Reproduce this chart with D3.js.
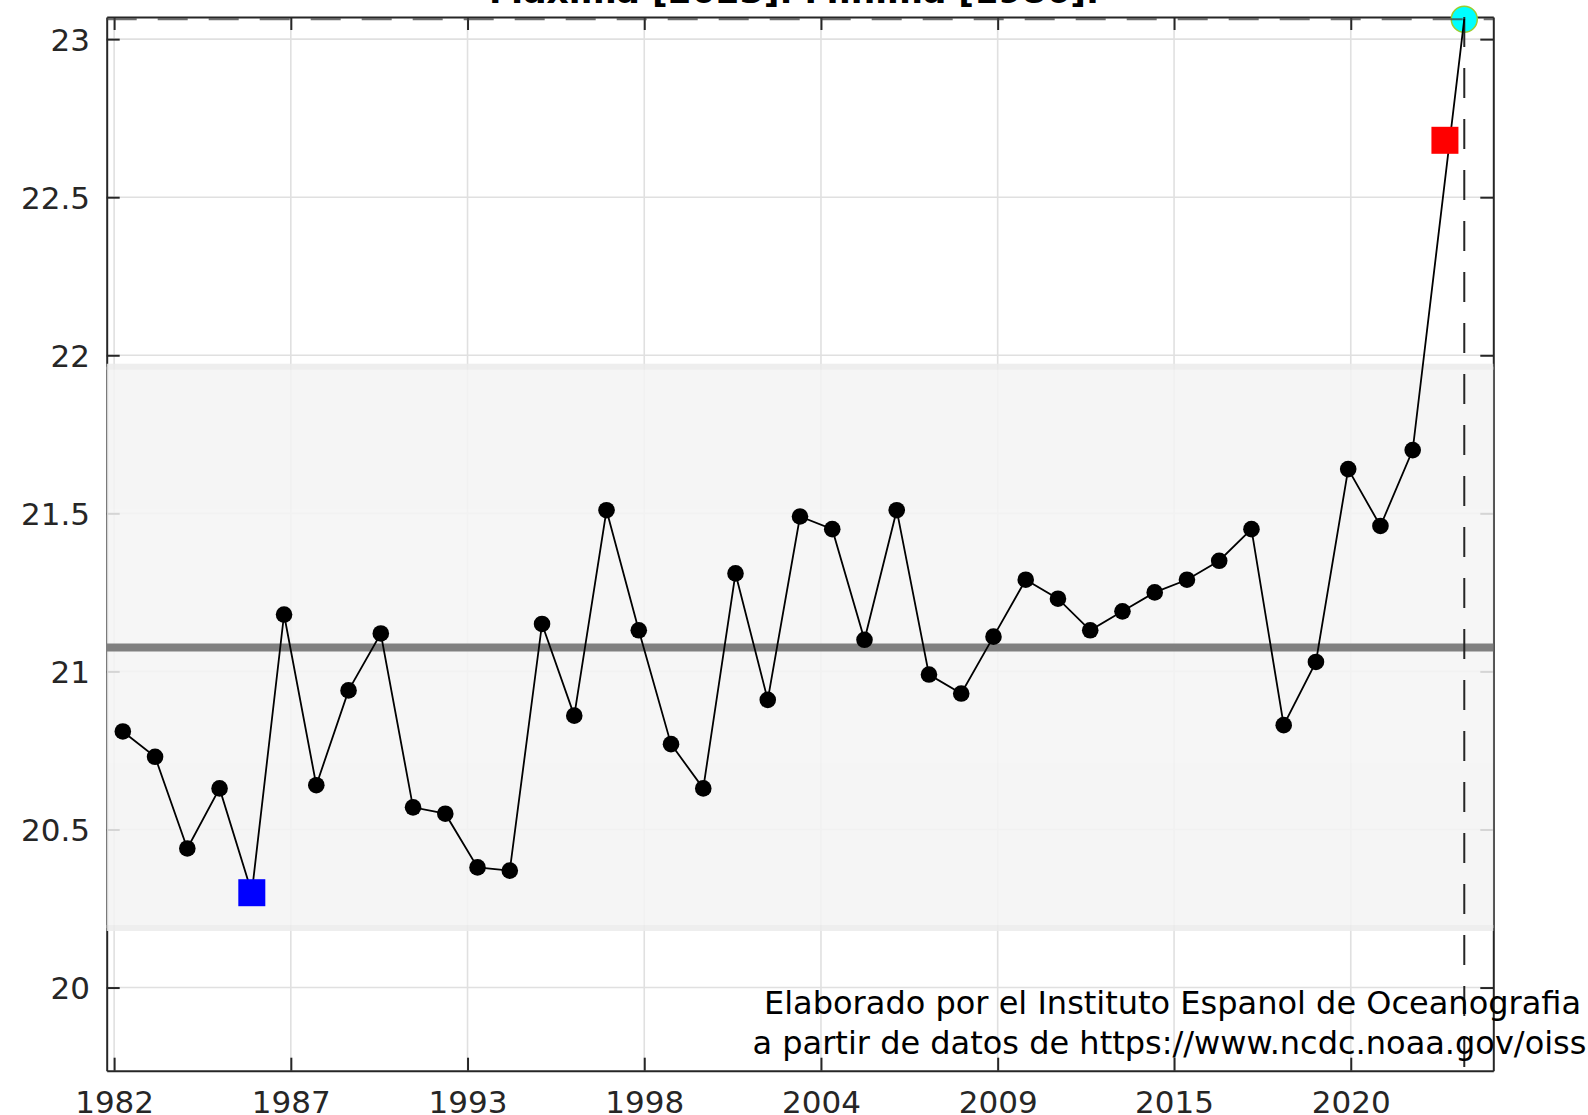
<!DOCTYPE html>
<html>
<head>
<meta charset="utf-8">
<script src="https://cdn.jsdelivr.net/npm/d3@7"></script>
<style>
  html, body { margin: 0; padding: 0; background: #ffffff; }
  svg { display: block; }
  text { font-family: "DejaVu Sans", "Noto Sans", sans-serif; }
</style>
</head>
<body>
<svg id="chart" width="1588" height="1115"></svg>
<script>
// ---------------- data ----------------
const years = [1982, 1983, 1984, 1985, 1986, 1987, 1988, 1989, 1990, 1991,
               1992, 1993, 1994, 1995, 1996, 1997, 1998, 1999, 2000, 2001,
               2002, 2003, 2004, 2005, 2006, 2007, 2008, 2009, 2010, 2011,
               2012, 2013, 2014, 2015, 2016, 2017, 2018, 2019, 2020, 2021, 2022];
const values = [20.81, 20.73, 20.44, 20.63, 20.30, 21.18, 20.64, 20.94, 21.12, 20.57,
                20.55, 20.38, 20.37, 21.15, 20.86, 21.51, 21.13, 20.77, 20.63, 21.31,
                20.91, 21.49, 21.45, 21.10, 21.51, 20.99, 20.93, 21.11, 21.29, 21.23,
                21.13, 21.19, 21.25, 21.29, 21.35, 21.45, 20.83, 21.03, 21.64, 21.46, 21.70];
const minPoint = { year: 1986, value: 20.30 };     // blue square
const maxPoint = { year: 2023, value: 22.68 };     // red square
const currentPoint = { year: 2023.6, value: 23.063 }; // cyan circle
const meanValue = 21.076;
const bandHalfWidth = 0.888;
const titleText = "Maxima [2023]. Minima [1986].";
const creditLines = ["Elaborado por el Instituto Espanol de Oceanografia",
                     "a partir de datos de https://www.ncdc.noaa.gov/oiss"];
const xDomain = [1981.5, 2024.5];
const yDomain = [19.737, 23.07];
const xTickValues = [1981.73, 1987.21, 1992.69, 1998.17, 2003.65, 2009.13, 2014.60, 2020.08];
const xTickLabels = ["1982", "1987", "1993", "1998", "2004", "2009", "2015", "2020"];
const yTickValues = [20, 20.5, 21, 21.5, 22, 22.5, 23];
const yTickLabels = ["20", "20.5", "21", "21.5", "22", "22.5", "23"];

// ---------------- layout ----------------
const pL = 106.7, pR = 1493.3, pT = 17, pB = 1070.7;
const axisColor = "#262626";
const svg = d3.select("#chart");

const x = d3.scaleLinear().domain(xDomain).range([pL, pR]);
const y = d3.scaleLinear().domain(yDomain).range([pB, pT]);

// grid
const grid = svg.append("g").attr("class", "grid");
grid.selectAll("line.gx").data(xTickValues).join("line").attr("class", "gx")
  .attr("x1", d => x(d)).attr("x2", d => x(d))
  .attr("y1", pT).attr("y2", pB)
  .attr("stroke", "#e0e0e0").attr("stroke-width", 1.6);
grid.selectAll("line.gy").data(yTickValues).join("line").attr("class", "gy")
  .attr("x1", pL).attr("x2", pR)
  .attr("y1", d => y(d)).attr("y2", d => y(d))
  .attr("stroke", "#e0e0e0").attr("stroke-width", 1.6);

// axes (inward ticks)
function styleAxis(g) {
  g.select(".domain").attr("stroke", axisColor).attr("stroke-width", 2);
  g.selectAll(".tick line").attr("stroke", axisColor).attr("stroke-width", 2);
  g.selectAll(".tick text").attr("fill", axisColor)
    .attr("font-size", 31).attr("font-family", "DejaVu Sans, sans-serif");
}
const fmtX = (d, i) => xTickLabels[i];
const fmtY = (d, i) => yTickLabels[i];

svg.append("g").attr("transform", `translate(0,${pB})`)
  .call(d3.axisBottom(x).tickValues(xTickValues).tickFormat(fmtX)
        .tickSizeInner(-13).tickSizeOuter(0).tickPadding(20))
  .call(styleAxis);
svg.append("g").attr("transform", `translate(0,${pT})`)
  .call(d3.axisTop(x).tickValues(xTickValues).tickFormat("")
        .tickSizeInner(-13).tickSizeOuter(0))
  .call(styleAxis);
svg.append("g").attr("transform", `translate(${pL},0)`)
  .call(d3.axisLeft(y).tickValues(yTickValues).tickFormat(fmtY)
        .tickSizeInner(-13).tickSizeOuter(0).tickPadding(16.7))
  .call(styleAxis)
  .call(g => g.selectAll(".tick text").attr("dy", "0.36em"));
svg.append("g").attr("transform", `translate(${pR},0)`)
  .call(d3.axisRight(y).tickValues(yTickValues).tickFormat("")
        .tickSizeInner(-13).tickSizeOuter(0))
  .call(styleAxis);

// band (mean +/- spread)
const band = svg.append("g").attr("opacity", 0.85);
band.append("rect")
  .attr("x", x(xDomain[0])).attr("width", x(xDomain[1]) - x(xDomain[0]))
  .attr("y", y(meanValue + bandHalfWidth))
  .attr("height", y(meanValue - bandHalfWidth) - y(meanValue + bandHalfWidth))
  .attr("fill", "#f4f4f4");
band.selectAll("line.edge").data([meanValue + bandHalfWidth, meanValue - bandHalfWidth]).join("line")
  .attr("class", "edge")
  .attr("x1", x(xDomain[0])).attr("x2", x(xDomain[1]))
  .attr("y1", d => y(d)).attr("y2", d => y(d))
  .attr("stroke", "#ececec").attr("stroke-width", 6);

// mean line
svg.append("line")
  .attr("x1", x(xDomain[0])).attr("x2", x(xDomain[1]))
  .attr("y1", y(meanValue)).attr("y2", y(meanValue))
  .attr("stroke", "#808080").attr("stroke-width", 8);

// current point (cyan)
svg.append("circle")
  .attr("cx", x(currentPoint.year)).attr("cy", y(currentPoint.value)).attr("r", 13)
  .attr("fill", "#00ffff").attr("stroke", "#9acd32").attr("stroke-width", 1.5);

// dashed reference lines
svg.append("line")
  .attr("x1", x(xDomain[0])).attr("x2", x(xDomain[1]))
  .attr("y1", y(currentPoint.value)).attr("y2", y(currentPoint.value))
  .attr("stroke", "#404040").attr("stroke-width", 2).attr("stroke-dasharray", "30,21")
  .attr("opacity", 0.75);
svg.append("line")
  .attr("x1", x(currentPoint.year)).attr("x2", x(currentPoint.year))
  .attr("y1", y(yDomain[1])).attr("y2", y(yDomain[0]))
  .attr("stroke", axisColor).attr("stroke-width", 2).attr("stroke-dasharray", "30,21");

// series line
const linePts = years.map((yr, i) => [yr, values[i]]).concat([[currentPoint.year, currentPoint.value]]);
svg.append("path")
  .datum(linePts)
  .attr("d", d3.line().x(d => x(d[0])).y(d => y(d[1])))
  .attr("fill", "none").attr("stroke", "#000").attr("stroke-width", 1.8);

// dots
svg.selectAll("circle.dot").data(years.map((yr, i) => [yr, values[i]]).filter(d => d[0] !== minPoint.year))
  .join("circle").attr("class", "dot")
  .attr("cx", d => x(d[0])).attr("cy", d => y(d[1])).attr("r", 8.3)
  .attr("fill", "#000");

// min / max squares
const sq = 27;
svg.selectAll("rect.ext").data([[minPoint, "#0000ff"], [maxPoint, "#ff0000"]]).join("rect")
  .attr("class", "ext")
  .attr("x", d => x(d[0].year) - sq / 2).attr("y", d => y(d[0].value) - sq / 2)
  .attr("width", sq).attr("height", sq)
  .attr("fill", d => d[1]);

// title (mostly cropped at top)
svg.append("text")
  .attr("x", (pL + pR) / 2 - 6).attr("y", 3)
  .attr("text-anchor", "middle").attr("font-weight", "bold").attr("font-size", 34.5)
  .attr("fill", "#000").text(titleText);

// credit text
svg.selectAll("text.credit").data(creditLines).join("text")
  .attr("class", "credit")
  .attr("x", (d, i) => i === 0 ? 764 : 752.5)
  .attr("y", (d, i) => 1014 + i * 40)
  .attr("font-size", 32).attr("fill", "#000")
  .text(d => d);
</script>
</body>
</html>
